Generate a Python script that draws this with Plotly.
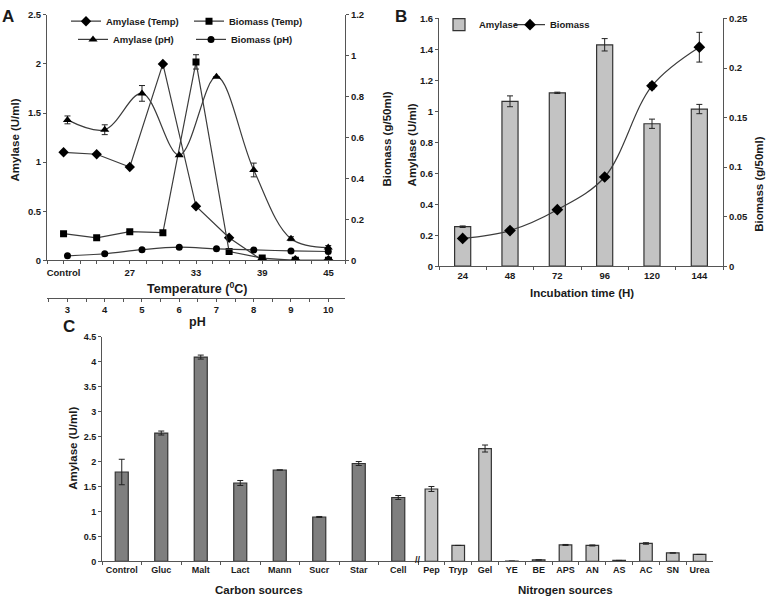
import plotly.graph_objects as go

W, H = 768, 607


def px(x):
    return x / W


def py(y):
    return 1 - y / H


# ---------------- Panel A data ----------------
temp_labels = ["Control", "24", "27", "30", "33", "36", "39", "42", "45"]
temp_tick_labels = ["Control", "27", "33", "39", "45"]
amylase_temp = [1.10, 1.08, 0.95, 2.00, 0.55, 0.23, 0.0, 0.0, 0.0]
biomass_temp = [0.13, 0.11, 0.14, 0.135, 0.97, 0.043, 0.011, 0.0, 0.0]
biomass_temp_err = [None, None, None, None, 0.035, None, None, None, None]
ph_values = [3, 4, 5, 6, 7, 8, 9, 10]
amylase_ph = [1.43, 1.33, 1.70, 1.07, 1.87, 0.92, 0.22, 0.13]
amylase_ph_err = [0.04, 0.05, 0.08, None, None, 0.07, 0.02, 0.02]
biomass_ph = [0.022, 0.032, 0.052, 0.064, 0.056, 0.051, 0.046, 0.043]

# ---------------- Panel B data ----------------
hours = ["24", "48", "72", "96", "120", "144"]
amylase_time = [0.255, 1.065, 1.12, 1.43, 0.92, 1.015]
amylase_time_err = [0.005, 0.035, 0.004, 0.04, 0.03, 0.03]
biomass_time = [0.028, 0.036, 0.057, 0.090, 0.182, 0.221]
biomass_time_err = [0.002, 0.002, 0.002, 0.002, 0.003, 0.015]

# ---------------- Panel C data ----------------
carbon_sources = ["Control", "Gluc", "Malt", "Lact", "Mann", "Sucr", "Star", "Cell"]
carbon_amylase = [1.79, 2.57, 4.09, 1.57, 1.83, 0.89, 1.96, 1.28]
carbon_err = [0.255, 0.04, 0.04, 0.05, None, 0.01, 0.04, 0.04]
nitrogen_sources = ["Pep", "Tryp", "Gel", "YE", "BE", "APS", "AN", "AS", "AC", "SN", "Urea"]
nitrogen_amylase = [1.45, 0.32, 2.26, 0.005, 0.03, 0.33, 0.32, 0.02, 0.36, 0.17, 0.14]
nitrogen_err = [0.05, None, 0.07, None, None, 0.01, 0.01, None, 0.015, None, None]

FONT = "Liberation Sans, Arial, sans-serif"
TXT = "#1a1a1a"
AX = "#555555"
LINE = "#3c3c3c"
ERR = dict(color="#222222", thickness=1, width=3)

temp_x = list(range(len(temp_labels)))
temp_tickvals = [temp_labels.index(t) for t in temp_tick_labels]

fig = go.Figure()

# Panel A
fig.add_trace(go.Scatter(
    x=temp_x, y=amylase_temp, name="Amylase (Temp)", mode="lines+markers",
    marker=dict(symbol="diamond", size=8, color="black"),
    line=dict(color=LINE, width=1.2), xaxis="x", yaxis="y", legend="legend"))
fig.add_trace(go.Scatter(
    x=temp_x, y=biomass_temp, name="Biomass (Temp)", mode="lines+markers",
    marker=dict(symbol="square", size=7, color="black"),
    line=dict(color=LINE, width=1.2),
    error_y=dict(type="data", array=biomass_temp_err, **ERR),
    xaxis="x", yaxis="y2", legend="legend"))
fig.add_trace(go.Scatter(
    x=ph_values, y=amylase_ph, name="Amylase (pH)", mode="lines+markers",
    marker=dict(symbol="triangle-up", size=8, color="black"),
    line=dict(color=LINE, width=1.2, shape="spline", smoothing=1),
    error_y=dict(type="data", array=amylase_ph_err, **ERR),
    xaxis="x2", yaxis="y", legend="legend2"))
fig.add_trace(go.Scatter(
    x=ph_values, y=biomass_ph, name="Biomass (pH)", mode="lines+markers",
    marker=dict(symbol="circle", size=7, color="black"),
    line=dict(color=LINE, width=1.2, shape="spline", smoothing=1),
    xaxis="x2", yaxis="y2", legend="legend2"))

# Panel B
fig.add_trace(go.Bar(
    x=hours, y=amylase_time, name="Amylase", width=0.34,
    marker=dict(color="#c3c3c3", line=dict(color="#333333", width=1.2)),
    error_y=dict(type="data", array=amylase_time_err, **ERR),
    xaxis="x3", yaxis="y3", legend="legend3"))
fig.add_trace(go.Scatter(
    x=hours, y=biomass_time, name="Biomass", mode="lines+markers",
    marker=dict(symbol="diamond", size=9, color="black"),
    line=dict(color=LINE, width=1.2, shape="spline", smoothing=1),
    error_y=dict(type="data", array=biomass_time_err, **ERR),
    xaxis="x3", yaxis="y4", legend="legend4"))

# Panel C
fig.add_trace(go.Bar(
    x=carbon_sources, y=carbon_amylase, name="Carbon sources", width=0.33,
    marker=dict(color="#7f7f7f", line=dict(color="#333333", width=1.2)),
    error_y=dict(type="data", array=carbon_err, **ERR),
    xaxis="x4", yaxis="y5", showlegend=False))
fig.add_trace(go.Bar(
    x=nitrogen_sources, y=nitrogen_amylase, name="Nitrogen sources", width=0.47,
    marker=dict(color="#c3c3c3", line=dict(color="#333333", width=1.2)),
    error_y=dict(type="data", array=nitrogen_err, **ERR),
    xaxis="x5", yaxis="y5", showlegend=False))

tickfont = dict(family=FONT, size=9.5, color=TXT, weight="bold")
tickfont_c = dict(family=FONT, size=9, color=TXT, weight="bold")
common = dict(showline=True, linecolor=AX, linewidth=1, showgrid=False, zeroline=False,
              ticks="outside", ticklen=3, tickcolor=AX, tickfont=tickfont)
common_c = dict(common, tickfont=tickfont_c, tickangle=0)

fig.update_layout(
    width=W, height=H, margin=dict(l=0, r=0, t=0, b=0),
    paper_bgcolor="white", plot_bgcolor="white",
    font=dict(family=FONT, size=10, color=TXT, weight="bold"),
    barmode="overlay",
    xaxis=dict(domain=[px(47), px(345)], anchor="y", range=[-0.5, 8.5],
               tickmode="array", tickvals=temp_tickvals, ticktext=temp_tick_labels,
               tickangle=0,
               minor=dict(tickmode="linear", tick0=0, dtick=0.5, ticks="outside",
                          ticklen=3, tickcolor=AX),
               **common),
    xaxis2=dict(overlaying="x", anchor="free", position=py(297), side="bottom",
                range=[2.45, 10.45], tickmode="array", tickvals=ph_values, tickangle=0,
                minor=dict(tickmode="linear", tick0=2.5, dtick=0.5, ticks="outside",
                           ticklen=3, tickcolor=AX),
                **common),
    yaxis=dict(domain=[py(259), py(9)], anchor="x", range=[0, 2.5], dtick=0.5, **common),
    yaxis2=dict(overlaying="y", anchor="x", side="right", range=[0, 1.2], dtick=0.2, **common),
    xaxis3=dict(domain=[px(439), px(723)], anchor="y3", type="category", tickangle=0,
                tickson="boundaries", **common),
    yaxis3=dict(domain=[py(265), py(12.7)], anchor="x3", range=[0, 1.6], dtick=0.2, **common),
    yaxis4=dict(overlaying="y3", anchor="x3", side="right", range=[0, 0.25], dtick=0.05, **common),
    xaxis4=dict(domain=[px(102), px(418)], anchor="y5", type="category",
                tickson="boundaries", **common_c),
    xaxis5=dict(domain=[px(418), px(713)], anchor="y5", type="category",
                tickson="boundaries", **common_c),
    yaxis5=dict(domain=[py(565.7), py(336.7)], anchor="x4", range=[0, 4.5], dtick=0.5, **common_c),
)

legfont = dict(family=FONT, size=9.5, color=TXT, weight="bold")
legbase = dict(orientation="h", xanchor="left", yanchor="middle", bgcolor="rgba(0,0,0,0)",
               font=legfont, entrywidthmode="pixels", tracegroupgap=0)
fig.update_layout(
    legend=dict(x=px(66), y=py(15.5), entrywidth=78, **legbase),
    legend2=dict(x=px(73), y=py(34), entrywidth=73, **legbase),
    legend3=dict(x=px(439), y=py(19), **legbase),
    legend4=dict(x=px(510), y=py(19), **legbase),
)


def ann(text, x, y, size=12, angle=0):
    fig.add_annotation(text=text, x=px(x), y=py(y), xref="paper", yref="paper",
                       showarrow=False, textangle=angle, xanchor="center", yanchor="middle",
                       font=dict(family=FONT, size=size, color=TXT, weight="bold"))


# panel letters
ann("A", 8, 11, size=17)
ann("B", 401, 11, size=17)
ann("C", 69, 326, size=17)
# Panel A titles
ann("Amylase (U/ml)", 15, 137, size=11.5, angle=-90)
ann("Biomass (g/50ml)", 387, 136, size=11.5, angle=-90)
ann("Temperature (<sup>0</sup>C)", 197, 287, size=12.5)
ann("pH", 197, 322, size=12.5)
# Panel B titles
ann("Amylase (U/ml)", 412, 142, size=11.5, angle=-90)
ann("Biomass (g/50ml)", 759, 182, size=11.5, angle=-90)
ann("Incubation time (H)", 582, 292, size=11.5)
# Panel C titles
ann("Amylase (U/ml)", 73, 451, size=11.5, angle=-90)
ann("Carbon sources", 259, 595, size=11.5)
ann("Nitrogen sources", 565, 595, size=11.5)
ann("//", 418, 564, size=9)

# remove the default 8px page margin so the figure fills the window exactly
fig.write_html("out.html", config={"displayModeBar": False},
               post_script="document.body.style.margin='0';")
